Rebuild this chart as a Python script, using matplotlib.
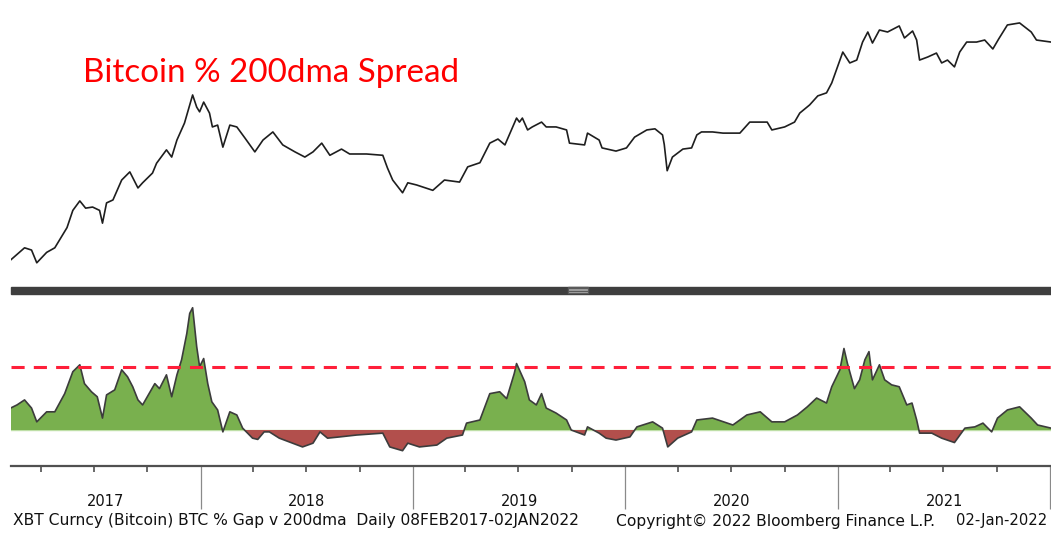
import numpy as np
import pandas as pd
import matplotlib
matplotlib.use("Agg")
import matplotlib.pyplot as plt
import matplotlib.dates as mdates
from matplotlib.patches import Rectangle
from matplotlib.lines import Line2D

# XBT Curncy last price (USD) (log scale)
price_dates = [
    "2017-02-08", "2017-03-04", "2017-03-16", "2017-03-25", "2017-04-11", "2017-04-25",
    "2017-05-16", "2017-05-26", "2017-06-07", "2017-06-17", "2017-06-29", "2017-07-11",
    "2017-07-16", "2017-07-23", "2017-08-03", "2017-08-18", "2017-09-01", "2017-09-15",
    "2017-09-23", "2017-10-10", "2017-10-17", "2017-11-03", "2017-11-12", "2017-11-21",
    "2017-12-04", "2017-12-18", "2017-12-25", "2017-12-30", "2018-01-06", "2018-01-16",
    "2018-01-21", "2018-01-30", "2018-02-08", "2018-02-20", "2018-03-04", "2018-03-18",
    "2018-04-04", "2018-04-18", "2018-05-05", "2018-05-22", "2018-06-12", "2018-06-29",
    "2018-07-13", "2018-07-28", "2018-08-11", "2018-08-31", "2018-09-14", "2018-10-13",
    "2018-11-10", "2018-11-18", "2018-11-27", "2018-12-14", "2018-12-23", "2019-01-07",
    "2019-02-04", "2019-02-24", "2019-03-22", "2019-04-05", "2019-04-26", "2019-05-13",
    "2019-05-27", "2019-06-08", "2019-06-28", "2019-07-03", "2019-07-08", "2019-07-17",
    "2019-07-25", "2019-08-10", "2019-08-18", "2019-09-04", "2019-09-22", "2019-09-27",
    "2019-10-23", "2019-10-28", "2019-11-17", "2019-11-22", "2019-12-16", "2020-01-03",
    "2020-01-17", "2020-02-07", "2020-02-21", "2020-03-05", "2020-03-08", "2020-03-13",
    "2020-03-22", "2020-04-09", "2020-04-24", "2020-05-03", "2020-05-11", "2020-05-30",
    "2020-06-17", "2020-07-16", "2020-08-02", "2020-09-01", "2020-09-09", "2020-10-01",
    "2020-10-18", "2020-10-27", "2020-11-13", "2020-11-27", "2020-12-12", "2020-12-21",
    "2021-01-04", "2021-01-09", "2021-01-21", "2021-02-02", "2021-02-12", "2021-02-21",
    "2021-03-01", "2021-03-13", "2021-03-27", "2021-04-16", "2021-04-25", "2021-05-09",
    "2021-05-16", "2021-05-21", "2021-06-04", "2021-06-19", "2021-06-28", "2021-07-08",
    "2021-07-20", "2021-07-29", "2021-08-10", "2021-08-27", "2021-09-10", "2021-09-24",
    "2021-10-04", "2021-10-19", "2021-11-09", "2021-11-29", "2021-12-08", "2022-01-02",
]
price_usd = [
    1050, 1300, 1250, 1000, 1200, 1300,
    1850, 2500, 2950, 2600, 2650, 2500,
    2000, 2850, 3000, 4250, 4900, 3700,
    4050, 4800, 5700, 7200, 6350, 8550,
    11500, 18800, 15200, 14000, 16600, 13700,
    10750, 11100, 7550, 11100, 10750, 8850,
    6950, 8550, 9850, 7850, 6950, 6350,
    6950, 8100, 6550, 7300, 6700, 6700,
    6550, 5250, 4250, 3400, 4050, 3900,
    3550, 4250, 4100, 5350, 5750, 8100,
    8700, 7850, 12550, 11700, 12550, 10200,
    10750, 11700, 10750, 10750, 10200, 8100,
    7850, 9650, 8550, 7450, 7050, 7450,
    9000, 10200, 10400, 9350, 7900, 5000,
    6350, 7300, 7450, 9350, 9850, 9850,
    9650, 9650, 11700, 11700, 10200, 10750,
    11700, 13700, 15800, 18500, 19500, 23200,
    34600, 39800, 32900, 34600, 47400, 56500,
    46600, 58500, 56500, 62800, 50900, 57500,
    49100, 34600, 36500, 39100, 32900, 34600,
    30700, 39800, 47400, 47400, 49100, 42000,
    50000, 63900, 66200, 56500, 49100, 47400,
]

# BTC % gap versus 200-day moving average
gap_dates = [
    "2017-02-08", "2017-02-19", "2017-03-04", "2017-03-16", "2017-03-25", "2017-04-11",
    "2017-04-25", "2017-05-12", "2017-05-26", "2017-06-07", "2017-06-15", "2017-06-27",
    "2017-07-07", "2017-07-16", "2017-07-23", "2017-08-06", "2017-08-18", "2017-08-28",
    "2017-09-06", "2017-09-15", "2017-09-23", "2017-10-14", "2017-10-22", "2017-11-03",
    "2017-11-12", "2017-11-21", "2017-11-29", "2017-12-08", "2017-12-13", "2017-12-18",
    "2017-12-25", "2017-12-30", "2018-01-06", "2018-01-13", "2018-01-20", "2018-01-30",
    "2018-02-08", "2018-02-20", "2018-03-04", "2018-03-14", "2018-03-31", "2018-04-09",
    "2018-04-20", "2018-04-29", "2018-05-16", "2018-06-08", "2018-06-25", "2018-07-13",
    "2018-07-25", "2018-08-07", "2018-08-28", "2018-09-26", "2018-11-10", "2018-11-22",
    "2018-12-14", "2018-12-23", "2019-01-12", "2019-02-11", "2019-02-28", "2019-03-27",
    "2019-04-03", "2019-04-26", "2019-05-13", "2019-05-30", "2019-06-11", "2019-06-24",
    "2019-06-28", "2019-07-12", "2019-07-20", "2019-08-01", "2019-08-10", "2019-08-18",
    "2019-09-04", "2019-09-22", "2019-09-30", "2019-10-23", "2019-10-28", "2019-11-17",
    "2019-11-29", "2019-12-16", "2020-01-09", "2020-01-21", "2020-02-17", "2020-03-05",
    "2020-03-14", "2020-03-31", "2020-04-24", "2020-05-03", "2020-05-30", "2020-07-04",
    "2020-07-28", "2020-08-20", "2020-09-09", "2020-10-01", "2020-10-23", "2020-11-09",
    "2020-11-25", "2020-12-12", "2020-12-21", "2021-01-04", "2021-01-11", "2021-01-17",
    "2021-01-29", "2021-02-07", "2021-02-16", "2021-02-23", "2021-03-01", "2021-03-13",
    "2021-03-22", "2021-04-03", "2021-04-16", "2021-04-29", "2021-05-08", "2021-05-16",
    "2021-05-21", "2021-06-11", "2021-06-28", "2021-07-20", "2021-08-07", "2021-08-24",
    "2021-09-07", "2021-09-22", "2021-10-02", "2021-10-19", "2021-11-09", "2021-11-29",
    "2021-12-10", "2022-01-02",
]
gap_pct = [
    35, 40, 48, 35, 13, 29,
    29, 58, 93, 104, 74, 61,
    53, 19, 56, 64, 96, 85,
    69, 48, 40, 74, 66, 88,
    53, 88, 112, 154, 186, 195,
    133, 101, 114, 74, 45, 32,
    -3, 29, 24, 3, -13, -15,
    -3, -3, -13, -21, -27, -21,
    -3, -13, -11, -8, -5, -27,
    -33, -21, -27, -24, -13, -8,
    11, 16, 58, 61, 50, 90,
    106, 77, 48, 40, 58, 35,
    27, 16, 0, -8, 5, -5,
    -13, -16, -11, 5, 13, 3,
    -27, -13, -3, 16, 19, 8,
    24, 29, 13, 13, 24, 37,
    51, 43, 69, 96, 130, 106,
    66, 80, 112, 125, 80, 104,
    80, 72, 69, 40, 43, 16,
    -5, -5, -13, -20, 3, 5,
    11, -3, 19, 32, 37, 19,
    8, 3,
]
gap_threshold = 100

year_labels = ["2017", "2018", "2019", "2020", "2021"]
footer_left = "XBT Curncy (Bitcoin) BTC % Gap v 200dma  Daily 08FEB2017-02JAN2022"
footer_mid = "Copyright\u00a9 2022 Bloomberg Finance L.P."
footer_right = "02-Jan-2022"
title = "Bitcoin % 200dma Spread"

W, H = 1051, 535
fig = plt.figure(figsize=(W / 100, H / 100), dpi=100)
fig.patch.set_facecolor("white")

px = pd.to_datetime(price_dates)
gx = pd.to_datetime(gap_dates)
gv = np.array(gap_pct, dtype=float)
x0, x1 = pd.Timestamp("2017-02-08"), pd.Timestamp("2022-01-02")

left = 10.6 / W
ax_top = fig.add_axes([left, 1 - 286 / H, 1 - left, 286 / H])
ax_bot = fig.add_axes([left, 1 - 466 / H, 1 - left, (466 - 294) / H])

# top panel: price, log scale
ax_top.plot(px, price_usd, color="#1e1e1e", lw=1.2)
ax_top.set_yscale("log")
ax_top.set_ylim(10 ** 2.824, 10 ** 4.995)
ax_top.set_xlim(x0, x1)
ax_top.axis("off")

# bottom panel: gap vs 200dma
ax_bot.axhline(0, color="#bfe0a8", lw=1.0, zorder=1)
ax_bot.fill_between(gx, gv, 0, where=gv >= 0, interpolate=True,
                    color="#79b04e", lw=0, zorder=2)
ax_bot.fill_between(gx, gv, 0, where=gv < 0, interpolate=True,
                    color="#b24f4c", lw=0, zorder=2)
ax_bot.plot(gx, gv, color="#3c3c3c", lw=1.2, zorder=3)
ax_bot.axhline(gap_threshold, color="#ff1f3a", lw=2.2,
               dashes=(4.3, 3.0), zorder=4)
ax_bot.set_xlim(x0, x1)
ax_bot.set_ylim(-57.4, 216.9)

for s in ["top", "left", "right"]:
    ax_bot.spines[s].set_visible(False)
ax_bot.spines["bottom"].set_color("#505050")
ax_bot.spines["bottom"].set_linewidth(1.6)
ax_bot.set_yticks([])
ax_bot.xaxis.set_major_locator(mdates.YearLocator())
ax_bot.xaxis.set_minor_locator(mdates.MonthLocator(bymonth=[4, 7, 10]))
ax_bot.tick_params(axis="x", which="major", length=31, width=0.9,
                   color="#8a8a8a", labelbottom=False)
ax_bot.tick_params(axis="x", which="minor", length=4.5, width=1.1,
                   color="#404040")

# year labels centred in each visible year
for lab in year_labels:
    a = max(pd.Timestamp(f"{lab}-01-01"), x0)
    b = min(pd.Timestamp(f"{int(lab) + 1}-01-01"), x1)
    mid = a + (b - a) / 2
    ax_bot.text(mid, -0.205, lab, transform=ax_bot.get_xaxis_transform(),
                ha="center", va="center", fontsize=10.5, color="#111111",
                family="DejaVu Sans")

# separator bar between panels, with grip
fig.patches.append(Rectangle((11 / W, 1 - 293.5 / H), 1 - 11 / W, 7 / H,
                             transform=fig.transFigure, color="#3e3e3e", zorder=5))
fig.patches.append(Rectangle((568 / W, 1 - 293 / H), 20 / W, 6 / H,
                             transform=fig.transFigure, color="#5a5a5a", zorder=6))
for yy in (288.6, 290.4, 292.2):
    fig.lines.append(Line2D([569 / W, 587 / W], [1 - yy / H] * 2,
                            transform=fig.transFigure, color="#a8a8a8",
                            lw=0.6, zorder=7))

fig.text(83 / W, 1 - 82 / H, title, color="#ff0000", fontsize=23.9,
         family="Lato", va="baseline", ha="left")

fig.text(13 / W, 1 - 521 / H, footer_left, fontsize=11.2, va="center",
         ha="left", color="#111111", family="DejaVu Sans")
fig.text(616 / W, 1 - 521 / H, footer_mid, fontsize=11.2, va="center",
         ha="left", color="#111111", family="DejaVu Sans")
fig.text(1047 / W, 1 - 521 / H, footer_right, fontsize=10.6, va="center",
         ha="right", color="#111111", family="DejaVu Sans")

fig.savefig("out.png", dpi=100, facecolor="white")
